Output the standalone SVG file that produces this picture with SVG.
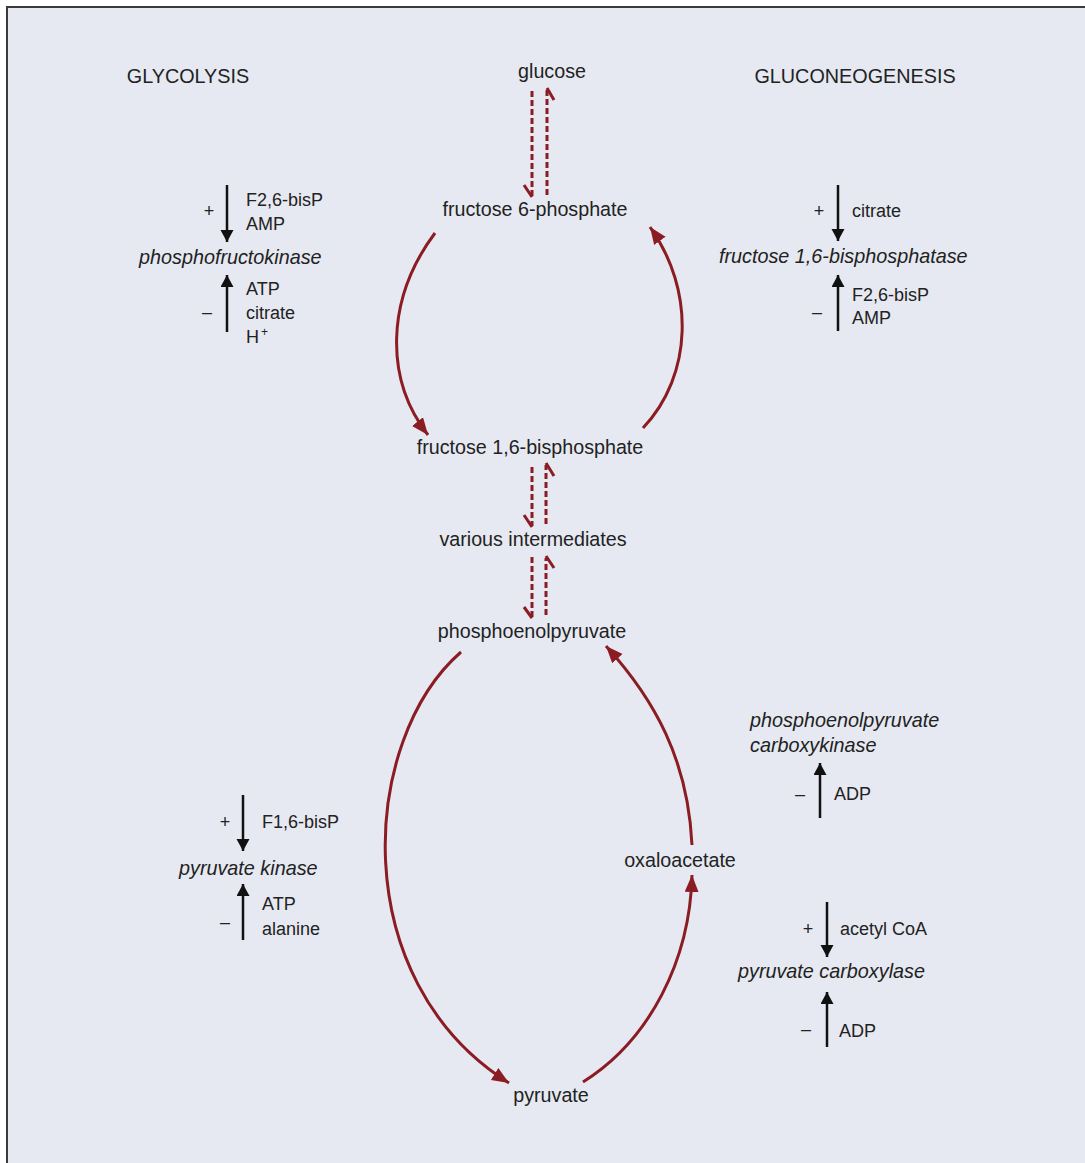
<svg xmlns="http://www.w3.org/2000/svg" width="1085" height="1163" viewBox="0 0 1085 1163">
  <style>
    text { font-family: "Liberation Sans", Arial, sans-serif; fill: #222; }
    .met { font-size: 19.7px; text-anchor: middle; }
    .head { font-size: 19.8px; text-anchor: middle; }
    .enz { font-size: 19.8px; font-style: italic; }
    .eff { font-size: 18px; }
    .sign { font-size: 18px; text-anchor: middle; }
    .flux { fill: none; stroke: #8c1c24; stroke-width: 3; }
    .dash { fill: none; stroke: #8c1c24; stroke-width: 3; stroke-dasharray: 6 3; }
    .barb { fill: none; stroke: #8c1c24; stroke-width: 3; }
    .reg { fill: none; stroke: #111; stroke-width: 2.5; }
  </style>
  <defs>
    <marker id="redHead" markerUnits="userSpaceOnUse" markerWidth="18" markerHeight="16" refX="17" refY="7" orient="auto">
      <path d="M0,0 L17,7 L0,14 Z" fill="#8c1c24"/>
    </marker>
    <marker id="blackHead" markerUnits="userSpaceOnUse" markerWidth="14" markerHeight="14" refX="12" refY="6.5" orient="auto">
      <path d="M0,0 L12,6.5 L0,13 Z" fill="#111"/>
    </marker>
  </defs>

  <!-- panel -->
  <rect x="0" y="0" width="1085" height="1163" fill="#ffffff"/>
  <rect x="7" y="7" width="1078" height="1156" fill="#e6e9f1"/>
  <path d="M7,1163 V7 H1085" fill="none" stroke="#3a3a3a" stroke-width="2"/>

  <!-- pathway headings -->
  <g id="heading-glycolysis"><text class="head" x="188" y="83">GLYCOLYSIS</text></g>
  <g id="heading-gluconeogenesis"><text class="head" x="855" y="83">GLUCONEOGENESIS</text></g>

  <!-- metabolites -->
  <g id="glucose"><text class="met" x="552" y="78">glucose</text></g>
  <g id="fructose-6-phosphate"><text class="met" x="535" y="216">fructose 6-phosphate</text></g>
  <g id="fructose-1-6-bisphosphate"><text class="met" x="530" y="454">fructose 1,6-bisphosphate</text></g>
  <g id="various-intermediates"><text class="met" x="533" y="546">various intermediates</text></g>
  <g id="phosphoenolpyruvate"><text class="met" x="532" y="638">phosphoenolpyruvate</text></g>
  <g id="oxaloacetate"><text class="met" x="680" y="867">oxaloacetate</text></g>
  <g id="pyruvate"><text class="met" x="551" y="1102">pyruvate</text></g>

  <!-- connectors -->
  <g id="connectors">
    <!-- reversible steps (dashed, half-headed) -->
    <line class="dash" x1="532" y1="91" x2="532" y2="196"/>
    <polyline class="barb" points="524,185 532,197"/>
    <line class="dash" x1="547" y1="195" x2="547" y2="90"/>
    <polyline class="barb" points="547,88 554,100"/>

    <line class="dash" x1="532" y1="467" x2="532" y2="526"/>
    <polyline class="barb" points="524,515 532,527"/>
    <line class="dash" x1="546" y1="524" x2="546" y2="465"/>
    <polyline class="barb" points="546,463 554,476"/>

    <line class="dash" x1="532" y1="557" x2="532" y2="617"/>
    <polyline class="barb" points="524,607 532,618"/>
    <line class="dash" x1="546" y1="615" x2="546" y2="558"/>
    <polyline class="barb" points="546,556 554,568"/>

    <!-- F6P / F1,6BP cycle -->
    <path class="flux" d="M435,233 C385,300 385,380 428,435" marker-end="url(#redHead)"/>
    <path class="flux" d="M643,428 C693,375 695,290 650,227" marker-end="url(#redHead)"/>

    <!-- PEP / pyruvate / oxaloacetate cycle -->
    <path class="flux" d="M461,652 C360,740 345,980 509,1083" marker-end="url(#redHead)"/>
    <path class="flux" d="M583,1082 C650,1040 690,960 692,875" marker-end="url(#redHead)"/>
    <path class="flux" d="M692,845 C688,760 655,700 606,646" marker-end="url(#redHead)"/>

    <!-- regulator arrows -->
    <line class="reg" x1="227" y1="185" x2="227" y2="242" marker-end="url(#blackHead)"/>
    <line class="reg" x1="227" y1="332" x2="227" y2="275" marker-end="url(#blackHead)"/>
    <line class="reg" x1="838" y1="185" x2="838" y2="241" marker-end="url(#blackHead)"/>
    <line class="reg" x1="838" y1="331" x2="838" y2="275" marker-end="url(#blackHead)"/>
    <line class="reg" x1="243" y1="795" x2="243" y2="851" marker-end="url(#blackHead)"/>
    <line class="reg" x1="243" y1="940" x2="243" y2="884" marker-end="url(#blackHead)"/>
    <line class="reg" x1="820" y1="818" x2="820" y2="763" marker-end="url(#blackHead)"/>
    <line class="reg" x1="827" y1="902" x2="827" y2="957" marker-end="url(#blackHead)"/>
    <line class="reg" x1="827" y1="1047" x2="827" y2="992" marker-end="url(#blackHead)"/>
  </g>

  <!-- phosphofructokinase -->
  <g id="pfk">
    <text class="sign" x="209" y="217">+</text>
    <text class="eff" x="246" y="206">F2,6-bisP</text>
    <text class="eff" x="246" y="230">AMP</text>
    <text class="enz" x="139" y="264">phosphofructokinase</text>
    <text class="sign" x="207" y="318">–</text>
    <text class="eff" x="246" y="295">ATP</text>
    <text class="eff" x="246" y="319">citrate</text>
    <text class="eff" x="246" y="343">H<tspan font-size="12" dy="-7" dx="2">+</tspan></text>
  </g>

  <!-- fructose 1,6-bisphosphatase -->
  <g id="fbpase">
    <text class="sign" x="819" y="217">+</text>
    <text class="eff" x="852" y="217">citrate</text>
    <text class="enz" x="719" y="263">fructose 1,6-bisphosphatase</text>
    <text class="sign" x="817" y="318">–</text>
    <text class="eff" x="852" y="301">F2,6-bisP</text>
    <text class="eff" x="852" y="324">AMP</text>
  </g>

  <!-- pyruvate kinase -->
  <g id="pyruvate-kinase">
    <text class="sign" x="225" y="828">+</text>
    <text class="eff" x="262" y="828">F1,6-bisP</text>
    <text class="enz" x="179" y="875">pyruvate kinase</text>
    <text class="sign" x="225" y="928">–</text>
    <text class="eff" x="262" y="910">ATP</text>
    <text class="eff" x="262" y="935">alanine</text>
  </g>

  <!-- phosphoenolpyruvate carboxykinase -->
  <g id="pepck">
    <text class="enz" x="750" y="727">phosphoenolpyruvate</text>
    <text class="enz" x="750" y="752">carboxykinase</text>
    <text class="sign" x="800" y="800">–</text>
    <text class="eff" x="834" y="800">ADP</text>
  </g>

  <!-- pyruvate carboxylase -->
  <g id="pyruvate-carboxylase">
    <text class="sign" x="808" y="935">+</text>
    <text class="eff" x="840" y="935">acetyl CoA</text>
    <text class="enz" x="738" y="978">pyruvate carboxylase</text>
    <text class="sign" x="806" y="1035">–</text>
    <text class="eff" x="839" y="1037">ADP</text>
  </g>
</svg>
